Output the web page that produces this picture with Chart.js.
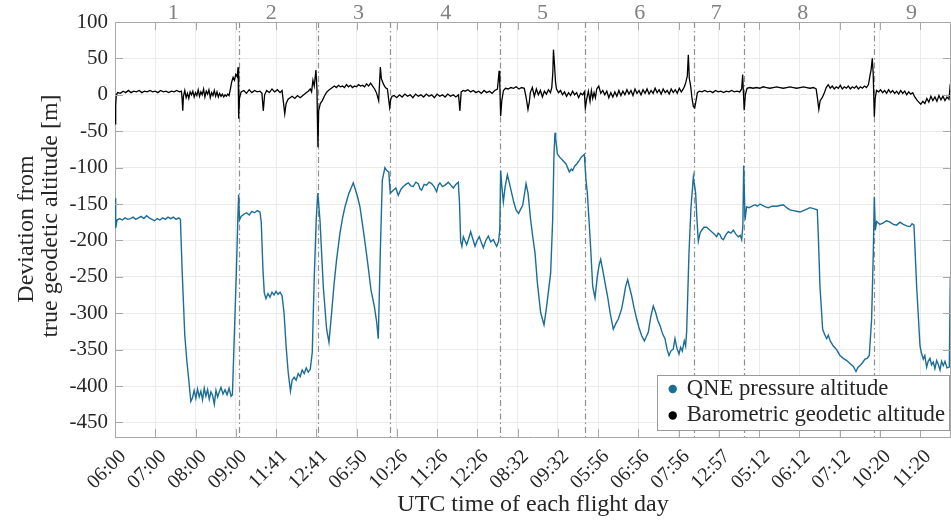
<!DOCTYPE html>
<html>
<head>
<meta charset="utf-8">
<title>Deviation from true geodetic altitude</title>
<script src="https://cdn.jsdelivr.net/npm/chart.js@4.4.0/dist/chart.umd.min.js"></script>
<style>
  html, body { margin: 0; padding: 0; background: #ffffff; overflow: hidden; }
  canvas { display: block; }
</style>
</head>
<body>
<canvas id="deviationChart" width="951" height="523"></canvas>
<script>
// Time axis is the flight days glued together, in minutes from the first tick.
const tickMinutes = [0, 60, 120, 180, 240, 300, 360, 420, 480, 540, 600, 660, 720, 780, 840, 900, 960, 1020, 1080, 1140, 1200];
const tickLabels = ['06:00', '07:00', '08:00', '09:00', '11:41', '12:41', '06:50', '10:26', '11:26', '12:26', '08:32',
                    '09:32', '05:56', '06:56', '07:56', '12:57', '05:12', '06:12', '07:12', '10:20', '11:20'];
const yTicks = [100, 50, 0, -50, -100, -150, -200, -250, -300, -350, -400, -450];

// Where one flight ends and the next starts, and where its number sits
const flightBreaks = [184.3, 302, 409.8, 574, 700.4, 863.3, 937.8, 1131.6];
const flightNames = ['1', '2', '3', '4', '5', '6', '7', '8', '9'];
const flightNameAt = [87, 233, 363, 493, 637, 782, 896, 1025, 1187];

// QNE pressure altitude minus geodetic altitude [minute, metres]
const qnePoints = [
  [0,-142],[1,-183],[3,-172],[7,-170],[11,-172],[15,-169],[19,-171],[23,-170],[27,-168],[31,-171],[35,-169],[39,-167],
  [43,-170],[47,-166],[51,-169],[55,-171],[59,-173],[63,-170],[67,-172],[71,-169],[75,-171],[79,-168],[83,-170],[87,-168],
  [91,-171],[95,-169],[97.5,-171],[100,-240],[104,-330],[107,-365],[110,-392],[113,-421],[115.5,-416],[118,-406],[120.5,-417],
  [123,-404],[125.5,-415],[128,-407],[130.5,-419],[133,-403],[135.5,-414],[138,-405],[140.5,-418],[143,-408],[145.5,-413],
  [148,-425],[150.5,-406],[153,-415],[155.5,-408],[158,-402],[161,-411],[164,-405],[167,-412],[170,-403],[173,-414],
  [175,-412],[177,-355],[181,-240],[183,-172],[184.3,-137],
  [185.5,-172],[188,-167],[192,-164],[196,-162],[200,-165],[204,-160],[208,-162],[212,-159],[216,-161],[218,-175],
  [220.5,-240],[222.5,-272],[225,-280],[228,-273],[231,-278],[234,-271],[237,-275],[240,-270],[243,-274],[246,-271],
  [249,-276],[252,-300],[255,-345],[258,-380],[261.5,-407],[264,-392],[267,-388],[270,-392],[273,-383],[276,-387],
  [279,-378],[282,-383],[285,-375],[288,-381],[291,-377],[294,-354],[297,-250],[300,-170],[302.3,-135],
  [305.5,-172],[310.4,-263],[315.4,-322],[318.9,-340],[322.9,-299],[326.5,-260],[330.3,-226],[335.3,-190],[339,-170],
  [342.7,-154],[348.7,-135],[352,-128],[355.1,-121],[358.6,-131],[361.5,-140],[365.1,-154],[371.5,-195],[376.5,-230],
  [381.5,-268],[386.4,-290],[390,-312],[392.4,-335],[395.4,-217],[398.4,-117],[402.3,-100],[405,-104],[408,-106],[410.3,-135],
  [414.8,-131],[418.5,-128],[422.2,-138],[426,-130],[429.7,-126],[433.5,-123],[437.1,-121],[440.8,-125],[444.6,-126],
  [448.3,-120],[452,-122],[454.5,-129],[457,-131],[460.7,-123],[464.4,-124],[468,-120],[471.9,-122],[475.5,-126],
  [479.3,-133],[482,-124],[484.3,-121],[488,-126],[491.9,-124],[494.5,-122],[496.8,-120],[500.5,-124],[504.3,-128],
  [508,-123],[511.7,-120],[513.5,-150],[515.2,-201],[517,-208],[519.2,-195],[521.5,-200],[524.1,-206],[527,-198],
  [530.1,-188],[533.3,-198],[536.6,-208],[539.8,-200],[543,-195],[546,-203],[549,-210],[552.7,-200],[556.4,-194],
  [560,-202],[563.9,-199],[566.5,-204],[568.9,-208],[571.8,-201],[573.5,-185],
  [574.8,-104],[576.5,-125],[578.8,-147],[581.5,-126],[584.8,-110],[588,-122],[591.2,-135],[594.5,-148],[597.7,-158],
  [601.6,-163],[604.6,-157],[607.6,-152],[610,-138],[612.6,-122],[615.6,-135],[619.5,-172],[622.8,-196],[626,-217],
  [629.5,-258],[634.4,-299],[637,-308],[639.4,-316],[641.5,-303],[643.4,-290],[649.3,-245],[652.3,-172],[654.3,-81],
  [655.8,-52],[656.8,-60],[659.3,-81],[663,-86],[667.2,-90],[672.2,-95],[674.5,-100],[677.2,-106],[680,-102],[682.1,-104],
  [685,-98],[688.1,-95],[692,-90],[695.5,-85],[699.5,-82],
  [702,-117],[704,-135],[708,-195],[712,-263],[715.4,-279],[718.9,-249],[721.5,-234],[723.9,-226],[727.8,-245],
  [730.3,-258],[734,-276],[738,-300],[742.7,-322],[746,-315],[750.2,-308],[755.1,-294],[758,-280],[761.1,-263],
  [764.1,-254],[767,-265],[770,-276],[773.5,-292],[777.5,-308],[781,-320],[785,-331],[788.9,-338],[791.5,-333],
  [794.9,-326],[798.5,-305],[802.3,-290],[805.8,-299],[809,-310],[812.3,-317],[816,-328],[819.7,-335],[823,-350],
  [825.7,-358],[828.5,-352],[832.1,-349],[834.6,-335],[837.5,-348],[840.6,-356],[843,-347],[845.5,-352],[848.5,-338],
  [850.5,-345],[852,-326],[855.5,-217],[858.5,-154],[862,-113],
  [865.4,-135],[867.4,-172],[869.4,-201],[872,-190],[874.4,-186],[878,-182],[881.8,-182],[885.5,-185],[889.3,-188],
  [893,-191],[896.7,-195],[899,-190],[901.7,-192],[904,-197],[906.7,-199],[910.5,-192],[914.1,-188],[918,-190],
  [921.6,-186],[925,-191],[929,-195],[932,-193],[934,-199],[935.8,-180],[937,-97],
  [939,-172],[941.4,-154],[945,-155],[949.5,-153],[953.9,-151],[957.5,-153],[961.3,-150],[965,-152],[969.5,-154],
  [973.7,-155],[979.5,-153],[986.1,-153],[991,-152],[996.1,-151],[1001,-155],[1006,-158],[1011,-159],[1016,-160],
  [1021,-161],[1025.9,-159],[1031,-157],[1035.8,-155],[1040,-156],[1043.3,-157],[1046.7,-158],[1048.5,-200],
  [1050.7,-263],[1054.7,-322],[1058,-330],[1060.7,-335],[1063.1,-330],[1066,-338],[1070.6,-345],[1075.5,-350],
  [1080.5,-358],[1085.5,-362],[1090.5,-365],[1095.5,-369],[1100.4,-373],[1104.4,-380],[1107.5,-374],[1110.3,-372],
  [1114,-368],[1117.8,-363],[1121,-362],[1124.2,-358],[1127.7,-308],[1130.2,-217],[1131.7,-140],
  [1133.2,-186],[1135.2,-174],[1140,-178],[1145.1,-176],[1150,-173],[1155.1,-175],[1160,-178],[1165,-179],[1170,-175],
  [1174.9,-178],[1180,-180],[1184.9,-181],[1188,-177],[1190.8,-179],[1194.8,-263],[1199.8,-345],[1202,-355],
  [1204.7,-363],[1207,-358],[1209.7,-374],[1212,-366],[1214.7,-362],[1217,-371],[1219.6,-367],[1222,-376],
  [1224.6,-365],[1227,-370],[1229.6,-378],[1232,-366],[1234.5,-372],[1237,-366],[1240,-375],[1243.5,-374],[1245,-250]
];

// Barometric geodetic altitude minus geodetic altitude [minute, metres]
const baroPoints = [
  [0,-40],[1,-15],[2,0],[4,3],[8,2],[12,5],[16,3],[20,6],[24,3],[28,5],[32,4],[36,6],[40,3],[44,5],[48,4],[52,6],
  [56,4],[60,5],[64,3],[68,6],[72,4],[76,5],[80,3],[84,5],[88,4],[92,6],[96,4],[99,5],[100,-5],[101,-22],[102,-2],
  [104,6],[106,-4],[108,2],[110,-5],[112,4],[114,0],[116,5],[118,-3],[120,3],[122,-1],[124,7],[126,-2],[128,4],
  [130,0],[132,8],[134,-3],[136,5],[138,1],[140,7],[142,-4],[144,3],[146,-1],[148,6],[150,-2],[152,4],[154,-3],
  [156,2],[158,-2],[160,1],[162,-3],[164,0],[166,-2],[168,1],[170,-1],[172,8],[174,18],[176,24],[178,20],[180,28],
  [182,25],[183.5,38],[184.3,-33],[185.5,-5],
  [188,4],[192,6],[196,2],[200,7],[204,3],[208,6],[212,4],[216,5],[219,2],[221,-22],[223,0],[226,6],[230,3],[234,8],
  [238,4],[242,7],[246,3],[249,6],[251,-10],[253,-26],[255,-12],[258,-6],[261,-4],[264,-2],[268,-5],[272,-1],[276,-4],
  [280,-1],[284,2],[288,5],[291,8],[293,4],[295,20],[297,12],[299.5,34],[301,8],[302.5,-72],[303.5,-22],
  [306,-12],[309,-8],[312,-2],[315,3],[318,6],[321,8],[324,10],[327,12],[330,10],[333,13],[336,11],[339,12],[342,10],
  [345,14],[348,11],[351,13],[354,10],[357,12],[360,11],[363,14],[366,12],[369,13],[372,11],[375,15],[378,12],[381,16],
  [384,12],[387,8],[390,2],[393,-8],[395.5,38],[397,22],[400,15],[403,10],[406,8],[409.3,-17],[411,-6],
  [413,-2],[416,-1],[420,-4],[424,0],[428,-3],[432,1],[436,-2],[440,0],[444,-4],[448,1],[452,-2],[456,0],[460,-3],
  [464,1],[468,-2],[472,0],[476,-4],[480,1],[484,-2],[488,0],[492,-3],[496,1],[500,-2],[504,0],[508,-3],[512,0],
  [514,-22],[516,4],[519,6],[522,5],[526,7],[530,4],[534,6],[538,3],[542,5],[546,2],[550,6],[554,3],[558,5],[562,2],
  [566,6],[570,8],[572.5,33],[573.5,15],[574.8,-29],[576.5,-8],
  [579,6],[582,9],[586,8],[590,10],[594,9],[598,11],[602,8],[606,10],[610,9],[613,-5],[615.5,-20],[617.5,-10],[619,3],
  [622,10],[625,-2],[628,8],[631,0],[634,6],[637,-3],[640,5],[643,1],[646,7],[649,3],[651,10],[652.5,30],[653.5,62],
  [655,42],[656.5,18],[658,8],[661,3],[664,6],[667,0],[670,4],[673,-2],[676,3],[679,-1],[682,5],[685,0],[688,3],
  [691,-4],[694,2],[697,0],[699.5,4],[701,-18],[703,-6],
  [705.5,5],[708,-9],[710,6],[712,-5],[714,3],[716,-4],[718,8],[721,12],[724,2],[727,6],[730,0],[733,5],[736,-4],
  [739,3],[742,-3],[745,4],[748,-2],[751,6],[754,-1],[757,5],[760,0],[763,7],[766,1],[769,6],[772,-1],[775,8],[778,2],
  [781,6],[784,0],[787,7],[790,2],[793,8],[796,1],[799,6],[802,2],[805,9],[808,3],[811,7],[814,1],[817,8],[820,3],
  [823,6],[826,1],[829,8],[832,3],[835,7],[838,2],[841,9],[844,4],[847,8],[849,12],[851,18],[853,26],[854.5,55],
  [856,22],[858,12],[860,-5],[862,-16],[864,-18],[866,-8],[868,3],
  [871,5],[875,4],[879,6],[883,4],[887,5],[891,3],[895,6],[899,4],[903,5],[907,3],[911,5],[915,4],[919,6],[923,4],
  [927,5],[931,4],[934,8],[935.5,28],[936.5,5],[937.8,-21],[939.5,0],[942,9],
  [946,10],[951,9],[956,10],[961,9],[966,11],[971,10],[976,9],[981,10],[986,11],[991,10],[996,9],[1001,10],[1006,11],
  [1011,10],[1016,9],[1021,10],[1026,11],[1031,10],[1036,9],[1041,10],[1045,8],[1047,-5],[1049,-20],[1051,-8],
  [1054,-4],[1057,2],[1060,10],[1063,14],[1066,9],[1069,12],[1072,8],[1075,11],[1078,9],[1081,13],[1084,8],[1087,11],
  [1090,9],[1093,12],[1096,8],[1099,11],[1102,9],[1105,12],[1108,8],[1111,11],[1114,9],[1117,12],[1120,10],[1123,14],
  [1125,25],[1127,35],[1128.7,50],[1130,30],[1131.7,-30],[1133,-5],
  [1135,6],[1138,4],[1141,7],[1144,3],[1147,6],[1150,2],[1153,7],[1156,3],[1159,6],[1162,2],[1165,5],[1168,1],
  [1171,6],[1174,2],[1177,5],[1180,0],[1183,4],[1186,1],[1189,3],[1192,-3],[1195,-7],[1198,-10],[1201,-13],[1204,-9],
  [1207,-12],[1210,-5],[1213,-10],[1216,-2],[1219,-8],[1222,-3],[1225,-9],[1228,-1],[1231,-7],[1234,-2],[1237,-8],
  [1240,-3],[1243,-6],[1245,15]
];

const serif = "'Liberation Serif', 'Times New Roman', serif";
const textColor = '#262626';
const axisColor = '#a8a8a8';
const gridColor = '#ebebeb';

// Frame, flight separators, flight numbers, axis titles and the legend box
const decorPlugin = {
  id: 'decor',
  beforeDatasetsDraw(chart) {
    const { ctx, chartArea: a, scales: { x } } = chart;
    ctx.save();
    ctx.strokeStyle = '#8f8f8f';
    ctx.lineWidth = 1.2;
    ctx.setLineDash([6, 3, 1.5, 3]);
    flightBreaks.forEach(t => {
      const px = Math.round(x.getPixelForValue(t)) + 0.5;
      ctx.beginPath();
      ctx.moveTo(px, a.top);
      ctx.lineTo(px, a.bottom);
      ctx.stroke();
    });
    ctx.restore();
  },
  afterDraw(chart) {
    const { ctx, chartArea: a, scales: { x, y } } = chart;
    ctx.save();

    // box and inward tick marks, MATLAB style
    ctx.strokeStyle = axisColor;
    ctx.lineWidth = 1;
    ctx.beginPath();
    ctx.moveTo(a.left, a.top + 0.5);
    ctx.lineTo(a.right, a.top + 0.5);
    ctx.moveTo(a.right - 0.5, a.top);
    ctx.lineTo(a.right - 0.5, a.bottom);
    tickMinutes.forEach(t => {
      const px = Math.round(x.getPixelForValue(t)) + 0.5;
      ctx.moveTo(px, a.bottom);
      ctx.lineTo(px, a.bottom - 8);
      ctx.moveTo(px, a.top);
      ctx.lineTo(px, a.top + 8);
    });
    yTicks.forEach(v => {
      const py = Math.round(y.getPixelForValue(v)) + 0.5;
      ctx.moveTo(a.left, py);
      ctx.lineTo(a.left + 8, py);
      ctx.moveTo(a.right, py);
      ctx.lineTo(a.right - 8, py);
    });
    ctx.stroke();

    // flight numbers above the plot
    ctx.fillStyle = '#808080';
    ctx.font = '22px ' + serif;
    ctx.textAlign = 'center';
    ctx.textBaseline = 'middle';
    flightNames.forEach((name, i) => {
      ctx.fillText(name, x.getPixelForValue(flightNameAt[i]), 13);
    });

    // axis titles
    ctx.fillStyle = textColor;
    ctx.font = '24px ' + serif;
    ctx.fillText('UTC time of each flight day', (a.left + a.right) / 2, 505);
    ctx.textBaseline = 'alphabetic';
    ctx.save();
    ctx.translate(33, 229);
    ctx.rotate(-Math.PI / 2);
    ctx.fillText('Deviation from', 0, 0);
    ctx.restore();
    ctx.save();
    ctx.translate(57, 216);
    ctx.rotate(-Math.PI / 2);
    ctx.fillText('true geodetic altitude [m]', 0, 0);
    ctx.restore();

    // legend, lower right inside the axes
    const sets = chart.data.datasets;
    ctx.textBaseline = 'middle';
    ctx.font = '22.7px ' + serif;
    const textW = Math.max(...sets.map(d => ctx.measureText(d.label).width));
    const boxW = textW + 34;
    const boxH = 55;
    const boxR = a.right - 2;
    const boxB = a.bottom - 7;
    const boxL = boxR - boxW;
    const boxT = boxB - boxH;
    ctx.fillStyle = '#ffffff';
    ctx.fillRect(boxL, boxT, boxW, boxH);
    ctx.strokeStyle = '#9a9a9a';
    ctx.strokeRect(Math.round(boxL) + 0.5, Math.round(boxT) + 0.5, Math.round(boxW), Math.round(boxH));
    ctx.textAlign = 'left';
    sets.forEach((d, i) => {
      const cy = boxT + 14 + i * 26.5;
      ctx.fillStyle = d.borderColor;
      ctx.beginPath();
      ctx.arc(boxL + 16, cy, 4.2, 0, Math.PI * 2);
      ctx.fill();
      ctx.fillStyle = textColor;
      ctx.fillText(d.label, boxL + 30, cy);
    });
    ctx.restore();
  }
};

const ctx = document.getElementById('deviationChart').getContext('2d');
new Chart(ctx, {
  type: 'line',
  data: {
    datasets: [
      {
        label: 'QNE pressure altitude',
        data: qnePoints.map(p => ({ x: p[0], y: p[1] })),
        borderColor: '#1b6d96',
        borderWidth: 1.4,
        pointRadius: 0,
        tension: 0,
        fill: false
      },
      {
        label: 'Barometric geodetic altitude',
        data: baroPoints.map(p => ({ x: p[0], y: p[1] })),
        borderColor: '#000000',
        borderWidth: 1.3,
        pointRadius: 0,
        tension: 0,
        fill: false
      }
    ]
  },
  options: {
    responsive: false,
    animation: false,
    events: [],
    layout: { padding: { top: 22, right: 0, bottom: 0, left: 0 } },
    plugins: {
      legend: { display: false },
      tooltip: { enabled: false }
    },
    scales: {
      x: {
        type: 'linear',
        min: 0,
        max: 1246,
        afterBuildTicks: s => { s.ticks = tickMinutes.map(v => ({ value: v })); },
        afterFit: s => { s.height = 86; },
        ticks: {
          autoSkip: false,
          minRotation: 45,
          maxRotation: 45,
          padding: 8,
          labelOffset: 8,
          color: textColor,
          font: { family: serif, size: 20 },
          callback: (v, i) => tickLabels[i]
        },
        grid: { color: gridColor, drawTicks: false },
        border: { color: axisColor, width: 1 }
      },
      y: {
        min: -470,
        max: 100,
        afterBuildTicks: s => { s.ticks = yTicks.map(v => ({ value: v })); },
        afterFit: s => { s.width = 115; },
        ticks: {
          padding: 7,
          color: textColor,
          font: { family: serif, size: 21 }
        },
        grid: { color: gridColor, drawTicks: false },
        border: { color: axisColor, width: 1 }
      }
    }
  },
  plugins: [decorPlugin]
});
</script>
</body>
</html>
